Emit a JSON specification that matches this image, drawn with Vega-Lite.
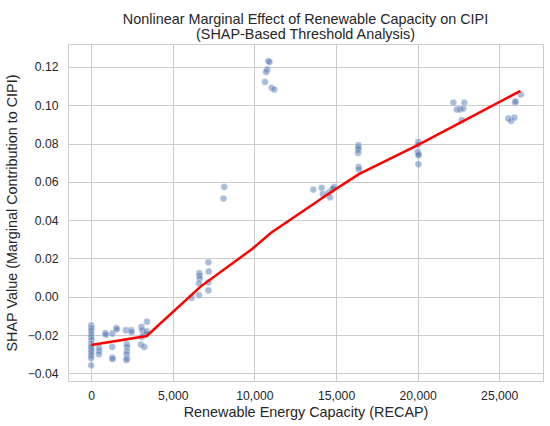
{
  "$schema": "https://vega.github.io/schema/vega-lite/v6.json",
  "width": 475,
  "height": 337,
  "autosize": "none",
  "padding": {"left": 68, "top": 44, "right": 7, "bottom": 45},
  "config": {
    "font": "Liberation Sans",
    "view": {"stroke": "#cccccc", "strokeWidth": 1},
    "axis": {
      "grid": true,
      "gridColor": "#cccccc",
      "gridWidth": 1,
      "domain": false,
      "ticks": false,
      "tickSize": 0,
      "labelFontSize": 12.2,
      "labelColor": "#262626",
      "titleFontSize": 14.4,
      "titleColor": "#262626",
      "titleFontWeight": "normal"
    }
  },
  "title": {
    "text": ["Nonlinear Marginal Effect of Renewable Capacity on CIPI", "(SHAP-Based Threshold Analysis)"],
    "fontSize": 14.4,
    "fontWeight": "normal",
    "color": "#262626",
    "lineHeight": 15,
    "offset": 2,
    "anchor": "middle"
  },
  "datasets": {
    "points": [
      {"recap": 0, "shap": -0.0150}, {"recap": 20, "shap": -0.0165}, {"recap": 0, "shap": -0.0178},
      {"recap": 10, "shap": -0.0195}, {"recap": 0, "shap": -0.0210}, {"recap": 20, "shap": -0.0225},
      {"recap": 0, "shap": -0.0245}, {"recap": 10, "shap": -0.0258}, {"recap": 0, "shap": -0.0268},
      {"recap": 20, "shap": -0.0280}, {"recap": 0, "shap": -0.0292}, {"recap": 10, "shap": -0.0305},
      {"recap": 0, "shap": -0.0320}, {"recap": 0, "shap": -0.0358},
      {"recap": 480, "shap": -0.0265}, {"recap": 490, "shap": -0.0282}, {"recap": 470, "shap": -0.0300},
      {"recap": 860, "shap": -0.0190}, {"recap": 900, "shap": -0.0198},
      {"recap": 1300, "shap": -0.0192}, {"recap": 1290, "shap": -0.0262}, {"recap": 1300, "shap": -0.0318},
      {"recap": 1310, "shap": -0.0325},
      {"recap": 1540, "shap": -0.0163}, {"recap": 1570, "shap": -0.0170},
      {"recap": 2120, "shap": -0.0175}, {"recap": 2180, "shap": -0.0248}, {"recap": 2200, "shap": -0.0262},
      {"recap": 2190, "shap": -0.0285}, {"recap": 2170, "shap": -0.0300}, {"recap": 2200, "shap": -0.0322},
      {"recap": 2150, "shap": -0.0330},
      {"recap": 2450, "shap": -0.0175}, {"recap": 2480, "shap": -0.0185},
      {"recap": 3080, "shap": -0.0158}, {"recap": 3120, "shap": -0.0175}, {"recap": 3250, "shap": -0.0198},
      {"recap": 3100, "shap": -0.0210}, {"recap": 3050, "shap": -0.0250}, {"recap": 3250, "shap": -0.0262},
      {"recap": 3420, "shap": -0.0130}, {"recap": 3380, "shap": -0.0195}, {"recap": 3400, "shap": -0.0180},
      {"recap": 6150, "shap": -0.0006}, {"recap": 6600, "shap": 0.0009}, {"recap": 6620, "shap": 0.0123},
      {"recap": 6640, "shap": 0.0110}, {"recap": 6650, "shap": 0.0095}, {"recap": 6600, "shap": 0.0070},
      {"recap": 7180, "shap": 0.0180}, {"recap": 7200, "shap": 0.0132}, {"recap": 7180, "shap": 0.0075},
      {"recap": 7180, "shap": 0.0033},
      {"recap": 8150, "shap": 0.0574}, {"recap": 8100, "shap": 0.0513},
      {"recap": 10850, "shap": 0.1231}, {"recap": 10920, "shap": 0.1226}, {"recap": 10790, "shap": 0.1187},
      {"recap": 10710, "shap": 0.1174}, {"recap": 10650, "shap": 0.1122}, {"recap": 11060, "shap": 0.1091},
      {"recap": 11220, "shap": 0.1082},
      {"recap": 13610, "shap": 0.0560}, {"recap": 14120, "shap": 0.0569}, {"recap": 14190, "shap": 0.0536},
      {"recap": 14530, "shap": 0.0543}, {"recap": 14740, "shap": 0.0557}, {"recap": 14880, "shap": 0.0574},
      {"recap": 14630, "shap": 0.0519}, {"recap": 14830, "shap": 0.0566},
      {"recap": 16370, "shap": 0.0792}, {"recap": 16360, "shap": 0.0780}, {"recap": 16370, "shap": 0.0769},
      {"recap": 16350, "shap": 0.0751}, {"recap": 16380, "shap": 0.0678}, {"recap": 16400, "shap": 0.0665},
      {"recap": 20040, "shap": 0.0809}, {"recap": 20030, "shap": 0.0795}, {"recap": 20000, "shap": 0.0757},
      {"recap": 20060, "shap": 0.0745}, {"recap": 20050, "shap": 0.0739}, {"recap": 20050, "shap": 0.0692},
      {"recap": 22190, "shap": 0.1014}, {"recap": 22860, "shap": 0.1014}, {"recap": 22400, "shap": 0.0978},
      {"recap": 22600, "shap": 0.0978}, {"recap": 22800, "shap": 0.0983}, {"recap": 22700, "shap": 0.0922},
      {"recap": 25970, "shap": 0.1014}, {"recap": 26000, "shap": 0.1020}, {"recap": 26320, "shap": 0.1056},
      {"recap": 25560, "shap": 0.0931}, {"recap": 25720, "shap": 0.0918}, {"recap": 25930, "shap": 0.0936}
    ],
    "fit": [
      {"recap": 0, "shap": -0.0252},
      {"recap": 3400, "shap": -0.0205},
      {"recap": 6700, "shap": 0.0053},
      {"recap": 9900, "shap": 0.0252},
      {"recap": 11000, "shap": 0.0333},
      {"recap": 14500, "shap": 0.0535},
      {"recap": 16400, "shap": 0.0640},
      {"recap": 20000, "shap": 0.0792},
      {"recap": 22500, "shap": 0.0904},
      {"recap": 26300, "shap": 0.1075}
    ]
  },
  "encoding": {
    "x": {
      "field": "recap",
      "type": "quantitative",
      "scale": {"domain": [-1420, 27680], "nice": false, "zero": false},
      "axis": {
        "title": "Renewable Energy Capacity (RECAP)",
        "values": [0, 5000, 10000, 15000, 20000, 25000],
        "format": ",d",
        "labelPadding": 8,
        "titlePadding": 4
      }
    },
    "y": {
      "field": "shap",
      "type": "quantitative",
      "scale": {"domain": [-0.044, 0.132], "nice": false, "zero": false},
      "axis": {
        "title": "SHAP Value (Marginal Contribution to CIPI)",
        "values": [-0.04, -0.02, 0, 0.02, 0.04, 0.06, 0.08, 0.1, 0.12],
        "format": ".2f",
        "labelExpr": "replace(datum.label, '-', '\u2212')",
        "labelPadding": 10,
        "titlePadding": 8
      }
    }
  },
  "layer": [
    {
      "data": {"name": "points"},
      "mark": {
        "type": "circle",
        "size": 46,
        "fill": "#4c72b0",
        "fillOpacity": 0.48,
        "stroke": "white",
        "strokeWidth": 0.5,
        "strokeOpacity": 0.6
      }
    },
    {
      "data": {"name": "fit"},
      "mark": {"type": "line", "color": "#ff0000", "strokeWidth": 2.5}
    }
  ]
}
